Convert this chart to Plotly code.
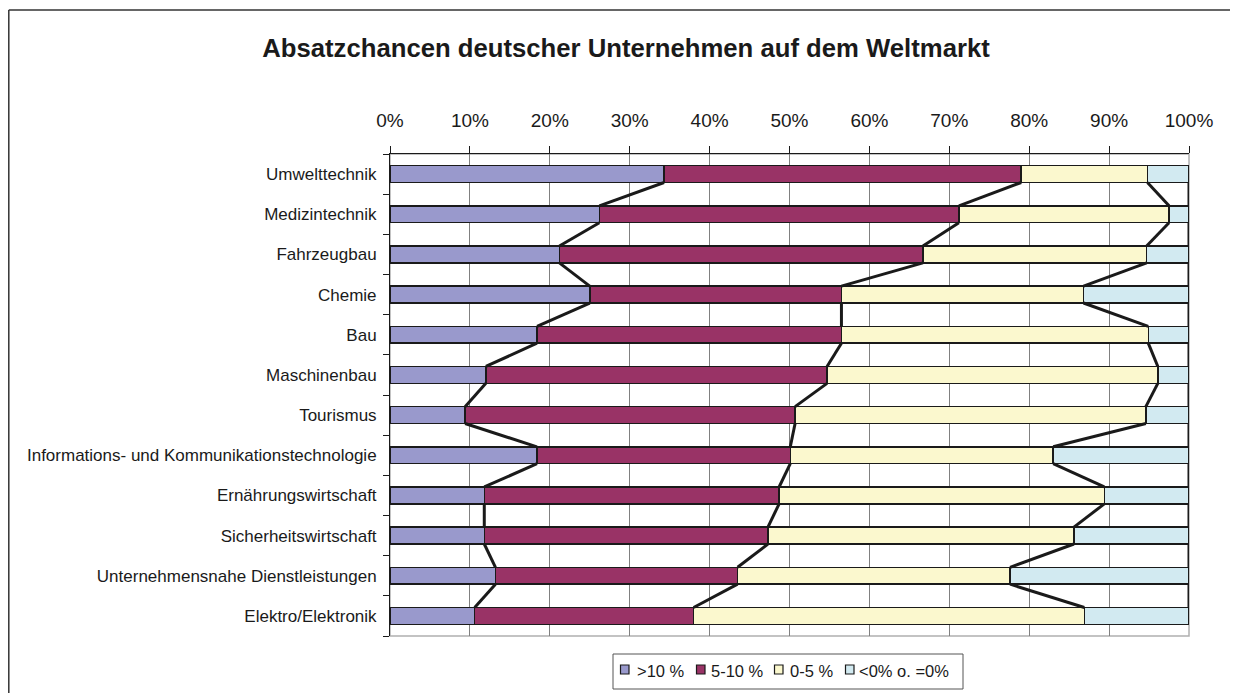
import plotly.graph_objects as go

categories = [
    "Umwelttechnik", "Medizintechnik", "Fahrzeugbau", "Chemie", "Bau",
    "Maschinenbau", "Tourismus", "Informations- und Kommunikationstechnologie",
    "Ernährungswirtschaft", "Sicherheitswirtschaft",
    "Unternehmensnahe Dienstleistungen", "Elektro/Elektronik",
]
series_names = [">10 %", "5-10 %", "0-5 %", "<0% o. =0%"]
s_gt10 = [34.3, 26.2, 21.2, 25.0, 18.4, 12.0, 9.4, 18.4, 11.8, 11.8, 13.2, 10.6]
s_5_10 = [44.7, 45.0, 45.5, 31.5, 38.1, 42.7, 41.3, 31.7, 36.9, 35.5, 30.3, 27.4]
s_0_5 = [15.8, 26.3, 28.0, 30.3, 38.4, 41.4, 43.9, 32.9, 40.7, 38.3, 34.1, 48.9]
s_lt0 = [5.2, 2.5, 5.3, 13.2, 5.1, 3.9, 5.4, 17.0, 10.6, 14.4, 22.4, 13.1]
x_ticks = list(range(0, 101, 10))
x_ticktext = [f"{v}%" for v in x_ticks]

colors = ["#9999CC", "#993366", "#FBF8CE", "#D2EAF1"]
FONT = "Liberation Sans, Arial, sans-serif"
BW = 0.42

all_series = [s_gt10, s_5_10, s_0_5, s_lt0]
ypos = list(range(len(categories)))

fig = go.Figure()
for name, vals, col in zip(series_names, all_series, colors):
    fig.add_trace(go.Bar(
        y=ypos, x=vals, name=name, orientation="h", width=BW,
        marker=dict(color=col, line=dict(color="#1a1a1a", width=1.5)),
        showlegend=False,
    ))

# series lines connecting cumulative ends
cum = [0.0] * len(categories)
for vals in all_series:
    cum = [c + v for c, v in zip(cum, vals)]
    xs, ys = [], []
    for i in range(len(categories) - 1):
        xs += [cum[i], cum[i + 1], None]
        ys += [i + BW / 2, i + 1 - BW / 2, None]
    fig.add_trace(go.Scatter(
        x=xs, y=ys, mode="lines", showlegend=False, cliponaxis=False,
        line=dict(color="#1a1a1a", width=3), hoverinfo="skip",
    ))

# page has 8px body margin; figure extends past the viewport (overflow hidden)
OFF = 8
W, H = 1238, 693
PL, PR, PT, PB = 390, 1189, 154, 636  # plot area in page pixels
L, R = PL - OFF, W - (PR - OFF)
T, B = PT - OFF, H - (PB - OFF)
pw, ph = PR - PL, PB - PT


def px_x(p):
    return (p - PL) / pw


def px_y(p):
    return (PB - p) / ph


shapes = [
    dict(type="rect", xref="paper", yref="paper", x0=0, x1=1, y0=0, y1=1,
         line=dict(color="#b0b0b0", width=1.5), layer="below"),
    # outer chart frame (left and top edges visible)
    dict(type="line", xref="paper", yref="paper",
         x0=px_x(8.8), x1=px_x(8.8), y0=px_y(700), y1=px_y(10),
         line=dict(color="#333333", width=1.5), layer="below"),
    dict(type="line", xref="paper", yref="paper",
         x0=px_x(8.8), x1=px_x(1240), y0=px_y(10), y1=px_y(10),
         line=dict(color="#333333", width=1.5), layer="below"),
    # legend box
    dict(type="rect", xref="paper", yref="paper",
         x0=px_x(613), x1=px_x(963), y0=px_y(689), y1=px_y(654),
         line=dict(color="#555555", width=1), fillcolor="white"),
]
annotations = []
leg_sq_x = [620.5, 696.5, 774.5, 845.5]
leg_tx_x = [635, 709, 788, 857]
for sx, tx, name, col in zip(leg_sq_x, leg_tx_x, series_names, colors):
    shapes.append(dict(type="rect", xref="paper", yref="paper",
                       x0=px_x(sx), x1=px_x(sx + 8.5), y0=px_y(674), y1=px_y(665),
                       line=dict(color="#1a1a1a", width=1.2), fillcolor=col))
    annotations.append(dict(text=name, xref="paper", yref="paper",
                            x=px_x(tx), y=px_y(670.5), xanchor="left",
                            yanchor="middle", showarrow=False,
                            font=dict(size=16.5, family=FONT, color="#1a1a1a")))

fig.update_layout(
    width=W, height=H,
    barmode="stack",
    paper_bgcolor="white", plot_bgcolor="white",
    margin=dict(l=L, r=R, t=T, b=B, autoexpand=False),
    font=dict(family=FONT, color="#1a1a1a"),
    showlegend=False,
    title=dict(
        text="<b>Absatzchancen deutscher Unternehmen auf dem Weltmarkt</b>",
        x=(626 - OFF) / W, xanchor="center", xref="container",
        y=1 - (48 - OFF) / H, yanchor="middle", yref="container",
        font=dict(size=25.7, family=FONT, color="#1a1a1a"),
    ),
    xaxis=dict(
        side="top", range=[0, 100], tickvals=x_ticks, ticktext=x_ticktext,
        showgrid=True, gridcolor="#808080", gridwidth=1,
        showline=True, linecolor="#1a1a1a", linewidth=1,
        ticks="outside", ticklen=7, tickcolor="#1a1a1a",
        tickfont=dict(size=19, family=FONT, color="#1a1a1a"),
        ticklabelstandoff=11, zeroline=False,
    ),
    yaxis=dict(
        range=[len(categories) - 0.5, -0.5], tickvals=ypos, ticktext=categories,
        ticks="", showgrid=False, zeroline=False,
        showline=True, linecolor="#1a1a1a", linewidth=1,
        tickfont=dict(size=17, family=FONT, color="#1a1a1a"),
        ticklabelstandoff=9,
        minor=dict(tick0=0.5, dtick=1, ticks="outside", ticklen=6,
                   tickcolor="#1a1a1a", showgrid=False),
    ),
    shapes=shapes,
    annotations=annotations,
)

fig.write_html(
    "out.html",
    post_script="document.documentElement.style.overflow='hidden';"
                "document.body.style.overflow='hidden';",
)
